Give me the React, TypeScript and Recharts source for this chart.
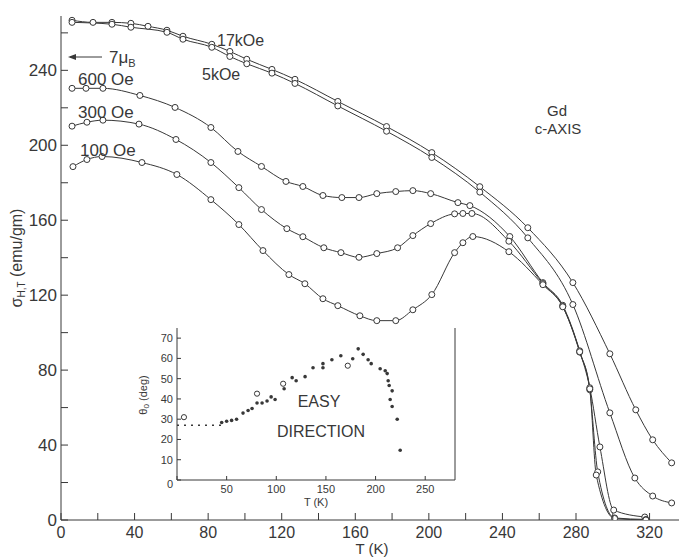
import { ComposedChart, Line, Scatter, XAxis, YAxis } from "recharts"

const ink = "#383838"
const font = "'Liberation Sans', Arial, sans-serif"

// main panel: sigma(H,T) vs T for five applied fields
const xTicks = [0, 20, 40, 60, 80, 100, 120, 140, 160, 180, 200, 220, 240, 260, 280, 300, 320]
const yTicks = [0, 20, 40, 60, 80, 100, 120, 140, 160, 180, 200, 220, 240, 260]

const t17k = [6, 17.4, 27.7, 38, 47.3, 57.6, 66.3, 82, 91.8, 101, 114.7, 127.2, 150.5, 177, 201.6, 227.7, 253.8, 278.3, 298.4, 312.5, 321.7, 332]
const s17k = [266.7, 265.6, 265.6, 265.1, 263.5, 261.4, 258.2, 253.9, 250.1, 245.9, 240.5, 235.2, 223.4, 210, 196.1, 177.9, 156, 126.7, 88.7, 58.8, 42.8, 30.5]

const t5k = [6, 27.7, 38, 57.6, 66.3, 82, 91.8, 101, 114.7, 127.2, 150.5, 177, 201.6, 227.7, 253.8, 278.3, 298.4, 312, 321.7, 332]
const s5k = [265.6, 264.6, 263, 260.3, 256.6, 252.3, 247.4, 243.5, 238.5, 233, 221, 207.5, 193.5, 175, 150.6, 115, 57.2, 22.4, 12.8, 9.1]

const t600 = [6, 13.6, 22.8, 42.9, 62, 81.5, 96.2, 109, 122.3, 131.5, 142.4, 152.7, 162, 171.7, 182, 191.3, 201, 215.8, 222.3, 244, 262, 272.8, 282, 287.5, 293, 300.5, 317.4]
const s600 = [230.4, 230.4, 230.4, 226.6, 220.2, 209.5, 196.7, 188.7, 180.7, 178, 173.2, 172.1, 172.1, 174.2, 175.3, 175.8, 174.2, 169.4, 167.8, 151.3, 126.7, 114.6, 90.3, 70.6, 39, 5.3, 1.6]

const t300 = [6, 14.1, 22.8, 42.4, 62.5, 81.5, 96.7, 109, 122.8, 131.5, 142.9, 152.2, 162, 171.7, 183, 191.3, 201, 214, 218.5, 223.4, 243.5, 262, 272.8, 282, 287.5, 291.8, 301, 318]
const s300 = [210.2, 212.3, 213.4, 211.3, 203.1, 190.8, 177.4, 165.7, 155.5, 151.2, 145.3, 142.7, 140.2, 142.2, 145.3, 151.8, 158.2, 163.4, 163.6, 163.6, 148.8, 126.2, 114, 89.6, 69.5, 25.7, 1.1, 0.3]

const t100 = [6.5, 14.1, 22.3, 44, 63, 81.5, 96.7, 109.8, 123.9, 132.6, 142.4, 150.5, 162.5, 171.7, 182, 191.3, 201.6, 214, 218.5, 223.9, 243.5, 262, 272.8, 282, 287.5, 291, 301, 318]
const s100 = [188.6, 192.4, 194, 190.8, 184.4, 171, 157.7, 143.8, 131, 126.1, 118.1, 114.4, 109, 106.4, 106.4, 112.2, 120.3, 142.7, 148, 151.3, 143.2, 125.6, 113.8, 89.8, 70, 24, 0.8, 0]

// inset: easy direction angle theta0 vs T
const insetXTicks = [0, 50, 100, 150, 200, 250]
const insetYTicks = [0, 10, 20, 30, 40, 50, 60, 70]
const easyT = [45, 50, 55, 60, 66.5, 71.6, 75.6, 80.6, 85.7, 90.7, 94.8, 98.8, 107.9, 116, 120, 129, 137, 147, 147, 156, 165, 177, 182.5, 187.5, 192.5, 195.6, 204.6, 209.7, 211.7, 212.7, 213.7, 216.7, 214.7, 216.7, 221.8, 224.8]
const easyTheta = [28.4, 29, 29.4, 30, 33, 34.3, 35.3, 38, 38, 39, 41, 39.7, 45, 50.5, 49, 51, 55.4, 55.4, 57.4, 59.3, 61.3, 59.8, 64.7, 62, 59.3, 57.4, 54.9, 53.9, 52.5, 49, 46.6, 44, 39.7, 36.3, 30, 14.7]
const openT = [7, 80.6, 106.9, 172]
const openTheta = [31, 42.6, 47.5, 56.4]
const dashT = [0, 45]
const dashTheta = [27, 27]

const pts = (ts: number[], vs: number[]) => ts.map((t, i) => ({ t, v: vs[i] }))

const BottomTick = ({ x, y, payload }: any) => (
  <g>
    <line x1={x} x2={x} y1={y} y2={y - 7} stroke={ink} />
    {payload.value % 40 === 0 && (
      <text x={x} y={y + 18} textAnchor="middle" fontSize={16} fill={ink} fontFamily={font}>
        {payload.value}
      </text>
    )}
  </g>
)
const TopTick = ({ x, y }: any) => <line x1={x} x2={x} y1={y} y2={y + 6} stroke={ink} />
const LeftTick = ({ x, y, payload }: any) => (
  <g>
    <line x1={x} x2={x + 7} y1={y} y2={y} stroke={ink} />
    {payload.value % 40 === 0 && (
      <text x={x - 4} y={y + 6} textAnchor="end" fontSize={17} fill={ink} fontFamily={font}>
        {payload.value}
      </text>
    )}
  </g>
)
const RightTick = ({ x, y }: any) => <line x1={x} x2={x - 6} y1={y} y2={y} stroke={ink} />

const InBottomTick = ({ x, y, payload }: any) => (
  <g>
    <line x1={x} x2={x} y1={y} y2={y - 4} stroke={ink} />
    {payload.value > 0 && (
      <text x={x} y={y + 13} textAnchor="middle" fontSize={11} fill={ink} fontFamily={font}>
        {payload.value}
      </text>
    )}
  </g>
)
const InTopTick = ({ x, y }: any) => <line x1={x} x2={x} y1={y} y2={y + 4} stroke={ink} />
const InLeftTick = ({ x, y, payload }: any) => (
  <g>
    <line x1={x} x2={x + 4} y1={y} y2={y} stroke={ink} />
    <text x={x - 4} y={y + (payload.value === 0 ? 8 : 4)} textAnchor="end" fontSize={11} fill={ink} fontFamily={font}>
      {payload.value}
    </text>
  </g>
)
const InRightTick = ({ x, y }: any) => <line x1={x} x2={x - 4} y1={y} y2={y} stroke={ink} />

const dotStyle = { r: 3, fill: "#fff", stroke: ink, strokeWidth: 1 }

const series = [
  { name: "17 kOe", data: pts(t17k, s17k) },
  { name: "5 kOe", data: pts(t5k, s5k) },
  { name: "600 Oe", data: pts(t600, s600) },
  { name: "300 Oe", data: pts(t300, s300) },
  { name: "100 Oe", data: pts(t100, s100) },
]

export default function App() {
  return (
    <div style={{ position: "absolute", left: 0, top: 0, width: 680, height: 558, background: "#fff", fontFamily: font }}>
      <ComposedChart width={680} height={558} margin={{ top: 16, right: 0, bottom: 0, left: 0 }}>
        <XAxis dataKey="t" type="number" domain={[0, 336]} ticks={xTicks} interval={0} allowDataOverflow
          height={38} tickSize={0} tickMargin={0} tickLine={false} tick={<BottomTick />} axisLine={{ stroke: ink }} />
        <XAxis xAxisId="top" orientation="top" type="number" domain={[0, 336]} ticks={xTicks} interval={0}
          height={0} tickSize={0} tickMargin={0} tickLine={false} tick={<TopTick />} axisLine={{ stroke: ink }} />
        <YAxis dataKey="v" type="number" domain={[0, 269]} ticks={yTicks} interval={0} allowDataOverflow
          width={61} tickSize={0} tickMargin={0} tickLine={false} tick={<LeftTick />} axisLine={{ stroke: ink }} />
        <YAxis yAxisId="r" orientation="right" type="number" domain={[0, 269]} ticks={yTicks} interval={0}
          width={1} tickSize={0} tickMargin={0} tickLine={false} tick={<RightTick />} axisLine={false} />
        {series.map((s) => (
          <Line key={s.name} data={s.data} dataKey="v" type="monotone" stroke={ink} strokeWidth={1}
            dot={dotStyle} isAnimationActive={false} />
        ))}
      </ComposedChart>

      <svg width={680} height={558} style={{ position: "absolute", left: 0, top: 0, pointerEvents: "none" }}
        fontFamily={font} fill={ink}>
        <text x={217} y={46} fontSize={16}>17kOe</text>
        <text x={202} y={80} fontSize={16}>5kOe</text>
        <text x={78} y={85} fontSize={17}>600 Oe</text>
        <text x={78} y={118} fontSize={17}>300 Oe</text>
        <text x={80} y={156} fontSize={17}>100 Oe</text>
        <line x1={70} x2={102} y1={57} y2={57} stroke={ink} />
        <path d="M68 57 L76 54 L76 60 Z" fill={ink} />
        <text x={109} y={63} fontSize={17}>7<tspan>μ</tspan><tspan fontSize={11} dy={4}>B</tspan></text>
        <text x={557} y={116} fontSize={15} textAnchor="middle">Gd</text>
        <text x={558} y={134} fontSize={15} textAnchor="middle">c-AXIS</text>
        <text x={372} y={554} fontSize={15} textAnchor="middle">T  (K)</text>
        <text transform="translate(22,258) rotate(-90)" fontSize={16} textAnchor="middle">
          σ<tspan fontSize={10} dy={3}>H,T</tspan><tspan dy={-3}> (emu/gm)</tspan>
        </text>
      </svg>

      <div style={{ position: "absolute", left: 120, top: 318, width: 350, height: 200 }}>
        <ComposedChart width={350} height={200} margin={{ top: 10, right: 0, bottom: 0, left: 0 }}>
          <XAxis dataKey="t" type="number" domain={[0, 280]} ticks={insetXTicks} interval={0} allowDataOverflow
            height={38} tickSize={0} tickMargin={0} tickLine={false} tick={<InBottomTick />} axisLine={{ stroke: ink }}
            label={{ value: "T (K)", position: "insideBottom", offset: 12, fontSize: 11, fill: ink, fontFamily: font }} />
          <XAxis xAxisId="top" orientation="top" type="number" domain={[0, 280]} ticks={insetXTicks} interval={0}
            height={0} tickSize={0} tickMargin={0} tickLine={false} tick={<InTopTick />} axisLine={{ stroke: ink }} />
          <YAxis dataKey="v" type="number" domain={[0, 75]} ticks={insetYTicks} interval={0} allowDataOverflow
            width={57} tickSize={0} tickMargin={0} tickLine={false} tick={<InLeftTick />} axisLine={{ stroke: ink }} />
          <YAxis yAxisId="r" orientation="right" type="number" domain={[0, 75]} ticks={insetYTicks} interval={0}
            width={15} tickSize={0} tickMargin={0} tickLine={false} tick={<InRightTick />} axisLine={{ stroke: ink }} />
          <Line data={pts(dashT, dashTheta)} dataKey="v" stroke={ink} strokeWidth={1.5} strokeDasharray="2 5"
            dot={false} isAnimationActive={false} />
          <Scatter data={pts(easyT, easyTheta)} fill={ink} shape={(p: any) => <circle cx={p.cx} cy={p.cy} r={1.8} fill={ink} />}
            isAnimationActive={false} />
          <Scatter data={pts(openT, openTheta)} fill="none" shape={(p: any) => <circle cx={p.cx} cy={p.cy} r={2.6} fill="none" stroke={ink} />}
            isAnimationActive={false} />
        </ComposedChart>
        <svg width={350} height={200} style={{ position: "absolute", left: 0, top: 0, pointerEvents: "none" }}
          fontFamily={font} fill={ink}>
          <text x={199} y={89} fontSize={16} textAnchor="middle">EASY</text>
          <text x={201} y={119} fontSize={16} textAnchor="middle">DIRECTION</text>
          <text transform="translate(27,77) rotate(-90)" fontSize={11} textAnchor="middle">
            θ<tspan fontSize={8} dy={2}>0</tspan><tspan dy={-2}> (deg)</tspan>
          </text>
        </svg>
      </div>
    </div>
  )
}
